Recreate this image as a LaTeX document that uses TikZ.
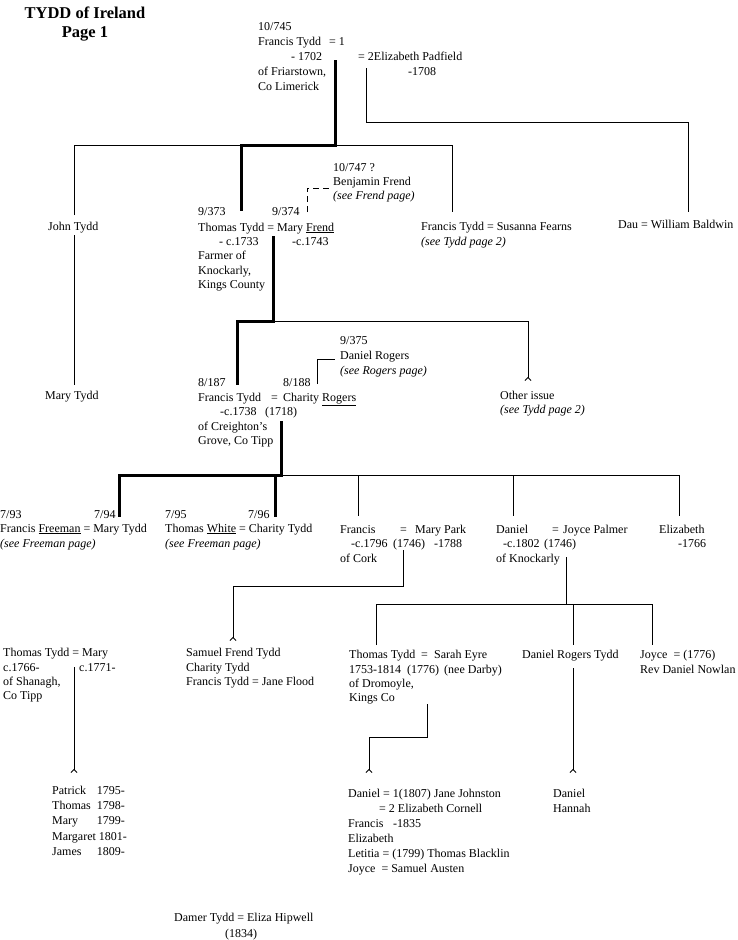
\documentclass[tikz,border=0pt]{standalone}
\usepackage{fontspec}
\setmainfont{Liberation Serif}
\usetikzlibrary{arrows.meta}
\tikzset{
  tx/.style={anchor=base west, inner sep=0pt, font=\fontsize{12}{15}\selectfont},
  itx/.style={tx, font=\fontsize{12}{15}\selectfont\itshape},
  rtx/.style={anchor=base east, inner sep=0pt, font=\fontsize{12}{15}\selectfont},
  ctx/.style={anchor=base, inner sep=0pt, font=\fontsize{12}{15}\selectfont},
  ttl/.style={anchor=base, inner sep=0pt, font=\fontsize{16.5}{20}\selectfont\bfseries},
  conn/.style={line width=0.9pt},
  heavy/.style={line width=3pt},
  tip/.style={conn, -{Straight Barb[reversed,length=3pt,width=6pt]}},
  dashline/.style={conn, dash pattern=on 6pt off 4pt},
}
\begin{document}
\begin{tikzpicture}[x=1pt,y=-1pt]
\useasboundingbox (0,0) rectangle (737,940);
% title
\node[ttl] (title) at (85,18) {TYDD of Ireland};
\node[ttl] (page) at (85,37) {Page 1};
% top couple
\node[tx] (a1) at (258,30) {10/745};
\node[tx] (a2) at (258,45) {Francis Tydd};
\node[tx] (a3) at (329,45) {= 1};
\node[tx] (a4) at (291,60) {- 1702};
\node[tx] (a5) at (258,75) {of Friarstown,};
\node[tx] (a6) at (258,90) {Co Limerick};
\node[tx] (a7) at (358,60) {= 2Elizabeth Padfield};
\node[tx] (a8) at (408,75) {-1708};
% generation 2
\node[tx] (john) at (48,230) {John Tydd};
\node[tx] (mary) at (45,399) {Mary Tydd};
\node[tx] (b1) at (198,215) {9/373};
\node[tx] (b2) at (272,215) {9/374};
\node[tx] (b3) at (198,231) {Thomas Tydd = Mary \underline{Frend}};
\node[tx] (b4) at (219,245) {- c.1733};
\node[tx] (b5) at (292,245) {-c.1743};
\node[tx] (b6) at (198,259) {Farmer of};
\node[tx] (b7) at (198,274) {Knockarly,};
\node[tx] (b8) at (198,288) {Kings County};
\node[tx] (c1) at (333,171) {10/747 ?};
\node[tx] (c2) at (333,185) {Benjamin Frend};
\node[itx] (c3) at (333,199) {(see Frend page)};
\node[tx] (d1) at (421,230) {Francis Tydd = Susanna Fearns};
\node[itx] (d2) at (421,245) {(see Tydd page 2)};
\node[tx] (e1) at (618,228) {Dau = William Baldwin};
% generation 3
\node[tx] (f1) at (340,344) {9/375};
\node[tx] (f2) at (340,359) {Daniel Rogers};
\node[itx] (f3) at (340,374) {(see Rogers page)};
\node[tx] (g1) at (198,386) {8/187};
\node[tx] (g2) at (283,386) {8/188};
\node[tx] (g3) at (198,401) {Francis Tydd};
\node[tx] (g4) at (271,401) {=};
\node[tx] (g5) at (283,401) {Charity \underline{Rogers}};
\node[tx] (g6) at (220,415) {-c.1738};
\node[tx] (g7) at (265,415) {(1718)};
\node[tx] (g8) at (198,430) {of Creighton's};
\node[tx] (g9) at (198,444) {Grove, Co Tipp};
\node[tx] (h1) at (500,399) {Other issue};
\node[itx] (h2) at (500,413) {(see Tydd page 2)};
% generation 4
\node[tx] (i1) at (0,518) {7/93};
\node[tx] (i2) at (94,518) {7/94};
\node[tx] (i3) at (0,532) {Francis \underline{Freeman} = Mary Tydd};
\node[itx] (i4) at (0,547) {(see Freeman page)};
\node[tx] (j1) at (165,518) {7/95};
\node[tx] (j2) at (248,518) {7/96};
\node[tx] (j3) at (165,532) {Thomas \underline{White} = Charity Tydd};
\node[itx] (j4) at (165,547) {(see Freeman page)};
\node[tx] (k1) at (340,533) {Francis};
\node[tx] (k2) at (400,533) {=};
\node[tx] (k3) at (415,533) {Mary Park};
\node[tx] (k4) at (351,547) {-c.1796};
\node[tx] (k5) at (393,547) {(1746)};
\node[tx] (k6) at (434,547) {-1788};
\node[tx] (k7) at (340,562) {of Cork};
\node[tx] (l1) at (496,533) {Daniel};
\node[tx] (l2) at (552,533) {=};
\node[tx] (l3) at (563,533) {Joyce Palmer};
\node[tx] (l4) at (503,547) {-c.1802};
\node[tx] (l5) at (544,547) {(1746)};
\node[tx] (l6) at (496,562) {of Knockarly};
\node[tx] (m1) at (659,533) {Elizabeth};
\node[tx] (m2) at (678,547) {-1766};
% generation 5
\node[tx] (n1) at (3,656) {Thomas Tydd = Mary};
\node[tx] (n2) at (3,671) {c.1766-};
\node[tx] (n3) at (79,671) {c.1771-};
\node[tx] (n4) at (3,685) {of Shanagh,};
\node[tx] (n5) at (3,699) {Co Tipp};
\node[tx] (o1) at (186,656) {Samuel Frend Tydd};
\node[tx] (o2) at (186,671) {Charity Tydd};
\node[tx] (o3) at (186,685) {Francis Tydd = Jane Flood};
\node[tx] (p1) at (349,658) {Thomas Tydd};
\node[tx] (p2) at (421,658) {=};
\node[tx] (p3) at (434,658) {Sarah Eyre};
\node[tx] (p4) at (349,673) {1753-1814};
\node[tx] (p5) at (407,673) {(1776)};
\node[tx] (p6) at (444,673) {(nee Darby)};
\node[tx] (p7) at (349,687) {of Dromoyle,};
\node[tx] (p8) at (349,701) {Kings Co};
\node[tx] (q1) at (522,658) {Daniel Rogers Tydd};
\node[tx] (r1) at (640,658) {Joyce\ \ = (1776)};
\node[tx] (r2) at (640,673) {Rev Daniel Nowlan};
% generation 6
\node[tx] (v1) at (52,794) {Patrick};
\node[rtx] (w1) at (125,794) {1795-};
\node[tx] (v2) at (52,809) {Thomas};
\node[rtx] (w2) at (125,809) {1798-};
\node[tx] (v3) at (52,824) {Mary};
\node[rtx] (w3) at (125,824) {1799-};
\node[tx] (v4) at (52,840) {Margaret};
\node[rtx] (w4) at (127,840) {1801-};
\node[tx] (v5) at (52,855) {James};
\node[rtx] (w5) at (125,855) {1809-};
\node[tx] (s1) at (348,797) {Daniel = 1(1807) Jane Johnston};
\node[tx] (s2) at (379,812) {= 2 Elizabeth Cornell};
\node[tx] (s3) at (348,827) {Francis};
\node[tx] (s3b) at (393,827) {-1835};
\node[tx] (s4) at (348,842) {Elizabeth};
\node[tx] (s5) at (348,857) {Letitia = (1799) Thomas Blacklin};
\node[tx] (s6) at (348,872) {Joyce\ \ = Samuel Austen};
\node[tx] (t1) at (553,797) {Daniel};
\node[tx] (t2) at (553,812) {Hannah};
\node[tx] (u1) at (174,921) {Damer Tydd = Eliza Hipwell};
\node[ctx] (u2) at (241,937) {(1834)};
% junction coordinates
\coordinate (A0) at (335,60);
\coordinate (A1) at (335,145);
\coordinate (A2) at (241,145);
\coordinate (A3) at (241,211);
\coordinate (J0) at (74,215);
\coordinate (J1) at (74,145);
\coordinate (F1) at (452,145);
\coordinate (F2) at (452,212);
\coordinate (E0) at (366,68);
\coordinate (E1) at (366,122);
\coordinate (E2) at (688,122);
\coordinate (E3) at (688,212);
\coordinate (M0) at (74,235);
\coordinate (M1) at (74,385);
\coordinate (D0) at (307,212);
\coordinate (D1) at (307,188);
\coordinate (D2) at (332,188);
\coordinate (B0) at (273,236);
\coordinate (B1) at (273,321);
\coordinate (B2) at (237,321);
\coordinate (B3) at (237,385);
\coordinate (O1) at (528,321);
\coordinate (O2) at (528,381);
\coordinate (R0) at (317,384);
\coordinate (R1) at (317,359);
\coordinate (R2) at (335,359);
\coordinate (G0) at (281,421);
\coordinate (G1) at (281,475);
\coordinate (G2) at (119,475);
\coordinate (G3) at (119,517);
\coordinate (G4) at (275,475);
\coordinate (G5) at (275,517);
\coordinate (G6) at (679,475);
\coordinate (G7) at (679,516);
\coordinate (G8) at (358,475);
\coordinate (G9) at (358,516);
\coordinate (G10) at (513,475);
\coordinate (G11) at (513,516);
\coordinate (K0) at (403,550);
\coordinate (K1) at (403,586);
\coordinate (K2) at (233,586);
\coordinate (K3) at (233,641);
\coordinate (L0) at (566,557);
\coordinate (L1) at (566,604);
\coordinate (L2) at (376,604);
\coordinate (L3) at (376,645);
\coordinate (L4) at (652,604);
\coordinate (L5) at (652,645);
\coordinate (L6) at (573,604);
\coordinate (L7) at (573,645);
\coordinate (N0) at (74,667);
\coordinate (N1) at (74,773);
\coordinate (P0) at (427,704);
\coordinate (P1) at (427,737);
\coordinate (P2) at (369,737);
\coordinate (P3) at (369,773);
\coordinate (Q0) at (573,668);
\coordinate (Q1) at (573,773);
% thin connectors
\draw[conn] (J0) -- (J1) -- (F1) -- (F2);
\draw[conn] (E0) -- (E1) -- (E2) -- (E3);
\draw[conn] (M0) -- (M1);
\draw[dashline] (D0) -- (D1) -- (D2);
\draw[tip] (B1) -- (O1) -- (O2);
\draw[conn] (R0) -- (R1) -- (R2);
\draw[conn] (G2) -- (G6) -- (G7);
\draw[conn] (G8) -- (G9);
\draw[conn] (G10) -- (G11);
\draw[tip] (K0) -- (K1) -- (K2) -- (K3);
\draw[conn] (L0) -- (L1);
\draw[conn] (L3) -- (L2) -- (L4) -- (L5);
\draw[conn] (L6) -- (L7);
\draw[tip] (N0) -- (N1);
\draw[tip] (P0) -- (P1) -- (P2) -- (P3);
\draw[tip] (Q0) -- (Q1);
% heavy line of descent
\draw[heavy] (A0) -- (A1) -- (A2) -- (A3);
\draw[heavy] (B0) -- (B1) -- (B2) -- (B3);
\draw[heavy] (G0) -- (G1) -- (G2) -- (G3);
\draw[heavy] (G4) -- (G5);
\end{tikzpicture}
\end{document}
